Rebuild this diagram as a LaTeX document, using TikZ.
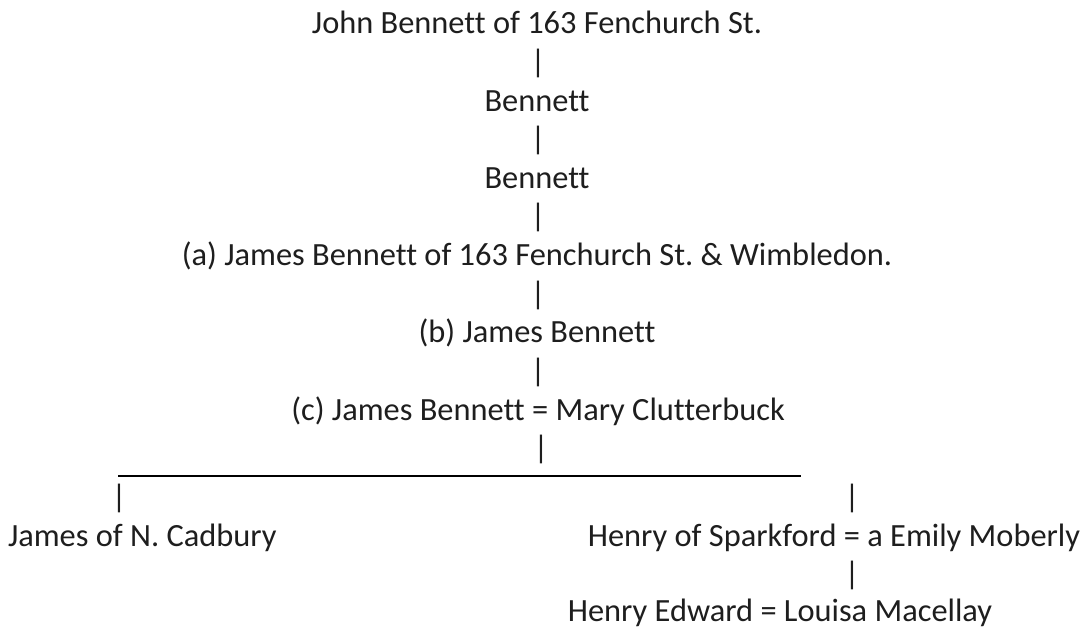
\documentclass[tikz,border=0pt]{standalone}
\usepackage{fontspec}
\setmainfont{Carlito}[Ligatures={NoCommon}]
\definecolor{inkc}{RGB}{30,30,30}
\begin{document}
\frenchspacing
\begin{tikzpicture}[x=1bp,y=-1bp,
  txt/.style={inner sep=0pt,outer sep=0pt,anchor=base,text=inkc,font=\fontsize{32.4bp}{38bp}\selectfont},
  bar/.style={txt},
  rule/.style={draw=black,line width=2.2bp}]
\useasboundingbox (0,0) rectangle (1082,627);
\fill[white] (0,0) rectangle (1082,627);
\node[txt] (john) at (537,34) {John Bennett of 163 Fenchurch St.};
\node[bar] (b1) at (538,72.6) {|};
\node[txt] (ben1) at (537,111.2) {Bennett};
\node[bar] (b2) at (538,149.8) {|};
\node[txt] (ben2) at (537,188.4) {Bennett};
\node[bar] (b3) at (538,227) {|};
\node[txt] (jaa) at (537,265.6) {(a) James Bennett of 163 Fenchurch St. \& Wimbledon.};
\node[bar] (b4) at (538,304.2) {|};
\node[txt] (jab) at (537,342.8) {(b) James Bennett};
\node[bar] (b5) at (538,381.4) {|};
\node[txt] (jac) at (538,420) {(c) James Bennett = Mary Clutterbuck};
\node[bar] (b6) at (541,458.6) {|};
\coordinate (ll) at (118,476);
\coordinate (lr) at (801,476);
\draw[rule] (ll) -- (lr);
\node[bar] (b7) at (119,507.6) {|};
\node[bar] (b8) at (852,507.6) {|};
\node[txt,anchor=base west] (jnc) at (8,546) {James of N. Cadbury};
\node[txt] (hsp) at (834,546) {Henry of Sparkford = a Emily Moberly};
\node[bar] (b9) at (852,584.6) {|};
\node[txt] (hed) at (780,621) {Henry Edward = Louisa Macellay};
\end{tikzpicture}
\end{document}
